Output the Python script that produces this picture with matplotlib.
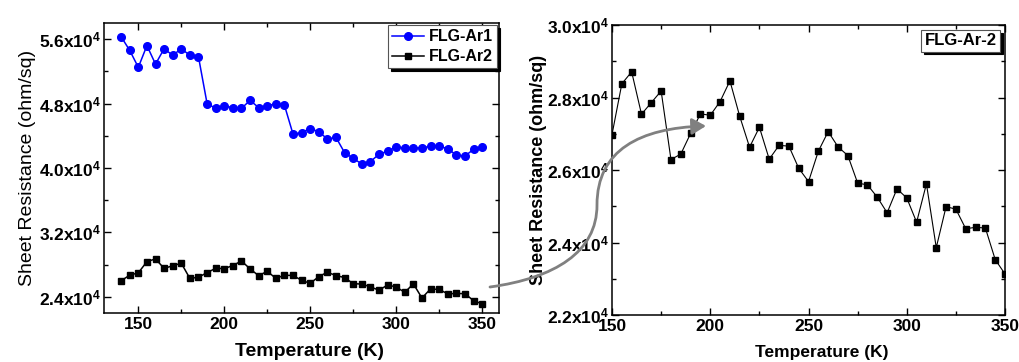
import matplotlib
matplotlib.use('Agg')
import numpy as np
from matplotlib import pyplot as plt
from matplotlib.lines import Line2D
from matplotlib.path import Path
from matplotlib.patches import FancyArrowPatch
from matplotlib.ticker import FuncFormatter, MultipleLocator

plt.rcParams['font.family'] = ['Liberation Sans', 'DejaVu Sans']
plt.rcParams['mathtext.fontset'] = 'custom'
plt.rcParams['mathtext.rm'] = 'Liberation Sans:bold'
plt.rcParams['mathtext.bf'] = 'Liberation Sans:bold'
plt.rcParams['mathtext.default'] = 'bf'

# temperature (K)
temp_ar1 = np.arange(140, 351, 5)
temp_ar2 = np.arange(140, 351, 5)

# sheet resistance (x1e4 ohm/sq)
res_ar1 = [5.63, 5.46, 5.25, 5.52, 5.29, 5.48, 5.40, 5.48, 5.40, 5.38,
           4.80, 4.74, 4.77, 4.75, 4.74, 4.84, 4.75, 4.77, 4.80, 4.78,
           4.42, 4.44, 4.49, 4.45, 4.36, 4.38, 4.19, 4.12, 4.05, 4.08,
           4.17, 4.21, 4.26, 4.25, 4.25, 4.25, 4.27, 4.27, 4.24, 4.16,
           4.15, 4.23, 4.26]
res_ar2 = [2.60, 2.67, 2.698, 2.838, 2.871, 2.754, 2.786, 2.818, 2.629, 2.644,
           2.701, 2.755, 2.751, 2.789, 2.846, 2.748, 2.663, 2.718, 2.630, 2.668,
           2.666, 2.605, 2.568, 2.652, 2.706, 2.664, 2.640, 2.564, 2.559, 2.525,
           2.482, 2.548, 2.523, 2.456, 2.562, 2.386, 2.499, 2.492, 2.438, 2.442,
           2.440, 2.353, 2.313]

res_ar1 = np.array(res_ar1) * 1e4
res_ar2 = np.array(res_ar2) * 1e4


def sci_fmt(v, pos):
    return f'{v / 1e4:.1f}x10$^4$'


def style_axes(ax, xmaj, ymaj):
    """ Ticks inward on all four sides, bold tick labels. """
    ax.xaxis.set_major_locator(MultipleLocator(xmaj))
    ax.xaxis.set_minor_locator(MultipleLocator(xmaj / 2))
    ax.yaxis.set_major_locator(MultipleLocator(ymaj))
    ax.yaxis.set_minor_locator(MultipleLocator(ymaj / 2))
    ax.yaxis.set_major_formatter(FuncFormatter(sci_fmt))
    ax.tick_params(which='both', direction='in', top=True, right=True, width=1.0)
    ax.tick_params(which='major', length=5)
    ax.tick_params(which='minor', length=3)
    ax.tick_params(axis='y', pad=2, labelsize=12.5)
    ax.tick_params(axis='x', pad=3, labelsize=12.5)
    for lab in ax.get_xticklabels() + ax.get_yticklabels():
        lab.set_fontweight('bold')
    for sp in ax.spines.values():
        sp.set_linewidth(1.1)


fig = plt.figure(figsize=(10.19, 3.62), dpi=100)
ax1 = fig.add_axes([0.102, 0.1354, 0.388, 0.801])
ax2 = fig.add_axes([0.6006, 0.1298, 0.3857, 0.801])

# left panel: both samples
ax1.plot(temp_ar1, res_ar1, '-o', color='#0000ff', lw=1.1, ms=5.5, label='FLG-Ar1')
ax1.plot(temp_ar2, res_ar2, '-s', color='black', lw=1.1, ms=5, label='FLG-Ar2')
ax1.set_xlim(130, 360)
ax1.set_ylim(2.2e4, 5.8e4)
style_axes(ax1, 50, 0.8e4)
ax1.set_xlabel('Temperature (K)', fontsize=14, fontweight='bold', labelpad=1)
ax1.xaxis.set_label_coords(0.519, -0.105)
ax1.set_ylabel('Sheet Resistance (ohm/sq)', fontsize=14, labelpad=2)
leg = ax1.legend(loc='upper right', fancybox=False, borderaxespad=0.15,
                 prop={'weight': 'bold', 'size': 11.5}, handlelength=2.0,
                 handletextpad=0.3, borderpad=0.25, labelspacing=0.3,
                 shadow={'color': 'black', 'alpha': 1.0}, framealpha=1)
leg.get_frame().set_edgecolor('#555555')
leg.get_frame().set_linewidth(0.8)

# right panel: zoom on FLG-Ar2
ax2.plot(temp_ar2, res_ar2, '-s', color='black', lw=0.8, ms=5, clip_on=True)
ax2.set_xlim(150, 350)
ax2.set_ylim(2.2e4, 3.0e4)
style_axes(ax2, 50, 0.2e4)
ax2.set_xlabel('Temperature (K)', fontsize=12.5, fontweight='bold', labelpad=1)
ax2.xaxis.set_label_coords(0.534, -0.105)
ax2.set_ylabel('Sheet Resistance (ohm/sq)', fontsize=13, fontweight='bold', labelpad=0)
leg2 = ax2.legend([Line2D([], [], lw=0)], ['FLG-Ar-2'], loc='upper right',
                  fancybox=False, borderaxespad=0.3, handlelength=0, handletextpad=0,
                  prop={'weight': 'bold', 'size': 12}, borderpad=0.2,
                  shadow={'color': 'black', 'alpha': 1.0}, framealpha=1)
leg2.get_frame().set_edgecolor('#555555')
leg2.get_frame().set_linewidth(0.8)

# curved grey arrow from the left curve into the zoomed panel
W, H = 1019.0, 362.0
pts = [(490, 287), (555, 278), (597, 252), (597, 205),
       (597, 150), (640, 128), (706, 126)]
verts = [(x / W, 1 - y / H) for x, y in pts]
codes = [Path.MOVETO, Path.CURVE4, Path.CURVE4, Path.CURVE4,
         Path.CURVE4, Path.CURVE4, Path.CURVE4]
arrow = FancyArrowPatch(path=Path(verts, codes), arrowstyle='-|>,head_length=0.6,head_width=0.35',
                        mutation_scale=14, color='#808080', lw=2.0,
                        transform=fig.transFigure, zorder=10)
fig.patches.append(arrow)

fig.savefig('out.png', dpi=100)
